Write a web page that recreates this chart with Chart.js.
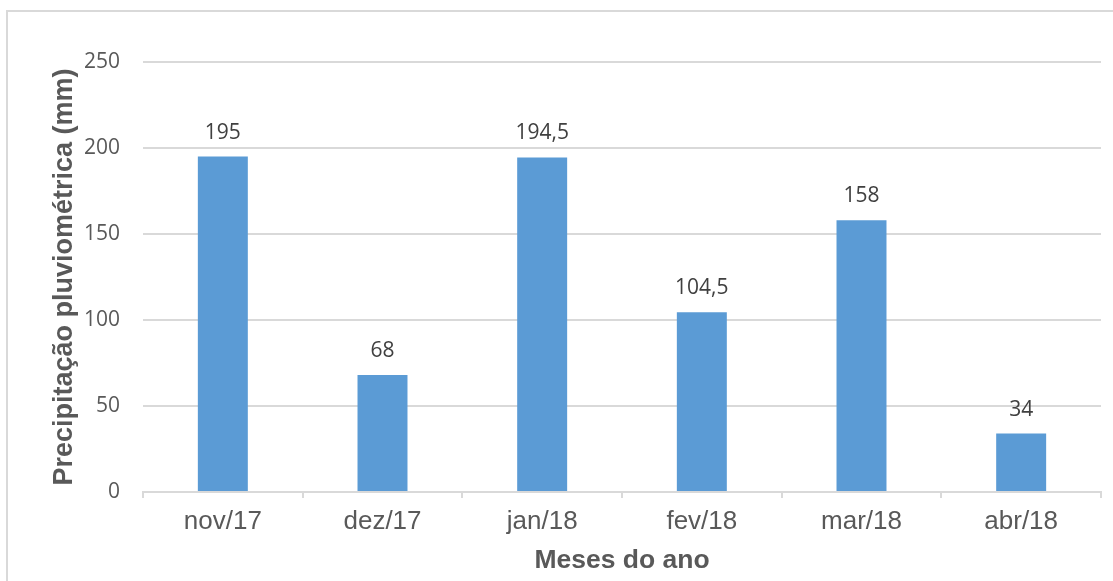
<!DOCTYPE html>
<html lang="pt">
<head>
<meta charset="utf-8">
<title>Precipitação pluviométrica</title>
<script src="https://cdn.jsdelivr.net/npm/chart.js@4/dist/chart.umd.min.js"></script>
<style>
  html, body { margin: 0; padding: 0; background: #fff; overflow: hidden; }
  .frame {
    position: absolute; left: 6px; top: 10px;
    width: 1200px; height: 700px;
    border: 2px solid #d9d9d9;
  }
  .wrap { position: absolute; left: 0; top: 0; width: 1113px; height: 581px; }
</style>
</head>
<body>
<div class="frame"></div>
<div class="wrap"><canvas id="chuva" width="1113" height="581"></canvas></div>
<script>
  // dados
  const meses = ['nov/17', 'dez/17', 'jan/18', 'fev/18', 'mar/18', 'abr/18'];
  const precipitacao = [195, 68, 194.5, 104.5, 158, 34];
  const yTicks = [0, 50, 100, 150, 200, 250];

  const cinza = '#595959';

  function fmt(v) {
    return String(v).replace('.', ',');
  }

  // rótulos de dados acima das barras
  const rotulos = {
    id: 'rotulos',
    afterDatasetsDraw: function (chart) {
      const ctx = chart.ctx;
      const meta = chart.getDatasetMeta(0);
      ctx.save();
      ctx.font = '21px "Open Sans"';
      ctx.fillStyle = '#404040';
      ctx.textAlign = 'center';
      ctx.textBaseline = 'alphabetic';
      meta.data.forEach(function (bar, i) {
        ctx.fillText(fmt(precipitacao[i]), bar.x, bar.y - 18);
      });
      ctx.restore();
    }
  };

  new Chart(document.getElementById('chuva'), {
    type: 'bar',
    data: {
      labels: meses,
      datasets: [{
        data: precipitacao,
        backgroundColor: '#5b9bd5',
        borderWidth: 0,
        categoryPercentage: 1,
        barPercentage: 0.313
      }]
    },
    options: {
      responsive: false,
      animation: false,
      devicePixelRatio: 1,
      layout: { padding: { top: 62, right: 12, left: 0, bottom: 0 } },
      plugins: { legend: { display: false }, tooltip: { enabled: false } },
      scales: {
        x: {
          offset: true,
          grid: {
            offset: true,
            drawOnChartArea: false,
            drawTicks: true,
            tickLength: 6,
            color: '#d9d9d9',
            lineWidth: 2
          },
          border: { display: true, color: '#d9d9d9', width: 2 },
          ticks: {
            color: cinza,
            padding: 8,
            maxRotation: 0,
            font: { family: '"Liberation Sans"', size: 26, lineHeight: 1.2 }
          },
          title: {
            display: true,
            text: 'Meses do ano',
            color: cinza,
            padding: { top: 0, bottom: 4 },
            font: { family: '"Liberation Sans"', size: 26.5, weight: 'bold', lineHeight: 1.2 }
          },
          afterFit: function (scale) { scale.height = 89; }
        },
        y: {
          min: 0,
          max: 250,
          afterBuildTicks: function (scale) {
            scale.ticks = yTicks.map(function (v) { return { value: v }; });
          },
          grid: { color: '#d9d9d9', lineWidth: 2, drawTicks: false },
          border: { display: false },
          ticks: {
            color: cinza,
            padding: 23,
            font: { family: '"Open Sans"', size: 21, lineHeight: 1.2 }
          },
          title: {
            display: true,
            text: 'Precipitação pluviométrica (mm)',
            color: cinza,
            padding: { top: 48, bottom: 0 },
            font: { family: '"Liberation Sans"', size: 27, weight: 'bold', lineHeight: 1.2 }
          },
          afterFit: function (scale) { scale.width = 143; }
        }
      }
    },
    plugins: [rotulos]
  });
</script>
</body>
</html>
